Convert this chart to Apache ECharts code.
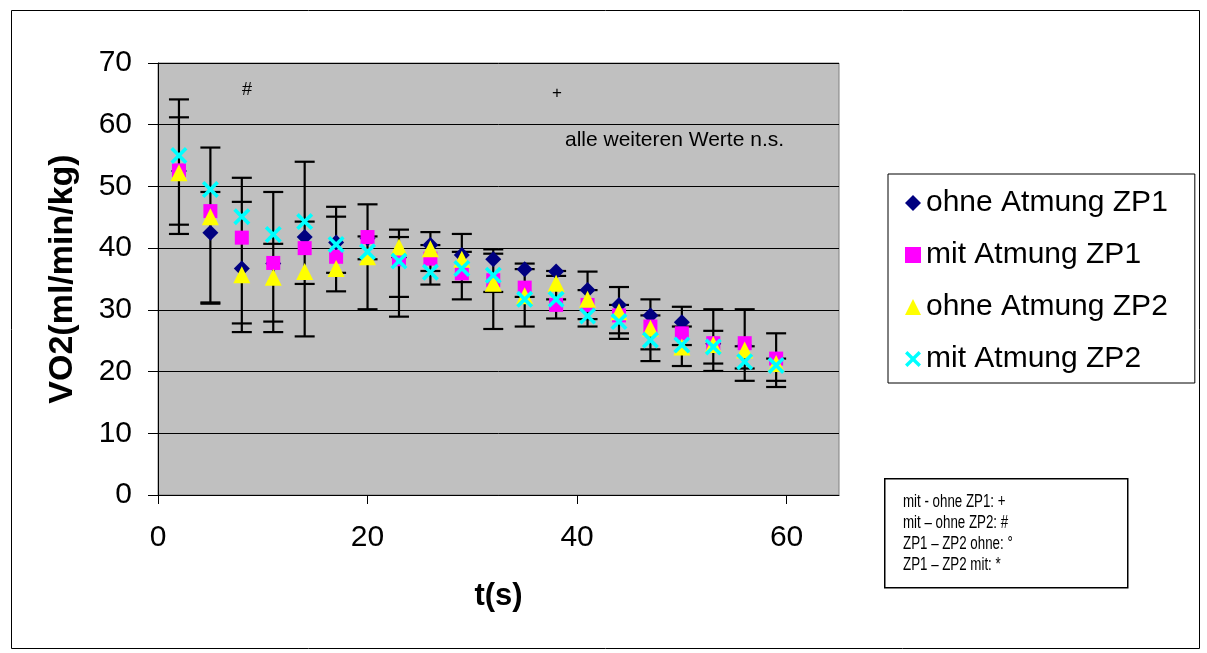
<!DOCTYPE html>
<html>
<head>
<meta charset="utf-8">
<script src="https://cdn.jsdelivr.net/npm/echarts@6/dist/echarts.min.js"></script>
<style>
	html, body { margin: 0; padding: 0; background: #fff; }
	#chart { width: 1207px; height: 653px; }
</style>
</head>
<body>
<div id="chart"></div>
<script>
// Zeitpunkte (s)
var times = [2, 5, 8, 11, 14, 17, 20, 23, 26, 29, 32, 35, 38, 41, 44, 47, 50, 53, 56, 59];

// VO2 Mittelwerte
var ohneZP1 = [52.5, 42.5, 36.7, 37.5, 41.8, 40.9, 41.6, 38.5, 40.5, 38.9, 38.2, 36.6, 36.2, 33.2, 30.8, 29.1, 28.0, 24.5, 24.2, 22.0];
var mitZP1  = [52.6, 46.0, 41.7, 37.6, 40.0, 38.6, 41.8, 38.2, 38.3, 35.9, 34.8, 33.6, 30.8, 30.8, 29.1, 27.3, 26.2, 24.6, 24.6, 22.1];
var ohneZP2 = [52.2, 45.1, 35.7, 35.3, 36.2, 36.7, 38.6, 40.2, 39.9, 38.2, 34.3, 32.3, 34.3, 31.7, 29.7, 27.0, 24.0, 24.4, 23.5, 21.3];
var mitZP2  = [55.0, 49.5, 45.1, 42.2, 44.3, 40.6, 39.4, 37.9, 36.1, 36.7, 35.6, 31.7, 31.7, 29.0, 28.1, 25.1, 24.3, 24.0, 21.6, 21.0];

// Fehlerbalken-Enden (obere / untere Kappen)
var capHiA = [64.1, 56.3, 51.4, 49.1, 54.0, 46.7, 47.1, 43.0, 42.6, 42.3, 39.8, 37.5, 36.3, 36.2, 33.7, 31.7, 30.5, 30.1, 30.1, 26.2];
var capHiB = [61.2, 49.1, 47.5, 40.7, 44.3, 45.1, 41.9, 41.8, 40.5, 39.4, 39.1, 36.6, 35.5, 33.2, 30.8, 29.1, 27.3, 26.6, 24.1, 22.1];
var capLoA = [43.8, 31.2, 27.8, 28.1, 34.2, 36.0, 38.2, 32.1, 36.3, 34.5, 32.9, 32.1, 31.7, 28.5, 26.2, 23.6, 24.3, 21.3, 20.5, 18.5];
var capLoB = [42.3, 31.0, 26.4, 26.4, 25.7, 33.0, 30.1, 28.9, 34.1, 31.7, 26.9, 27.3, 28.6, 27.3, 25.3, 21.7, 20.9, 20.1, 18.5, 17.5];

var seriesNames = ['ohne Atmung ZP1', 'mit Atmung ZP1', 'ohne Atmung ZP2', 'mit Atmung ZP2'];
var seriesColors = ['#000080', '#FF00FF', '#FFFF00', '#00FFFF'];
var xTicks = [0, 20, 40, 60];

var FONT = '"Liberation Sans", Arial, sans-serif';
var crossPath = 'path://M0,1.5 L1.5,0 L5,3.5 L8.5,0 L10,1.5 L6.5,5 L10,8.5 L8.5,10 L5,6.5 L1.5,10 L0,8.5 L3.5,5 Z';

function pairs(values) {
	return times.map(function(t, i) { return [t, values[i]]; });
}

function errorRows() {
	return times.map(function(t, i) {
		return [t, capHiA[i], capHiB[i], capLoA[i], capLoB[i]];
	});
}

function renderErrorBar(params, api) {
	var x = api.coord([api.value(0), 0])[0];
	var ys = [1, 2, 3, 4].map(function(d) { return api.coord([0, api.value(d)])[1]; });
	var top = Math.min.apply(null, ys), bottom = Math.max.apply(null, ys);
	var style = { stroke: '#000', lineWidth: 2.2 };
	var children = [{ type: 'line', shape: { x1: x, y1: top, x2: x, y2: bottom }, style: style }];
	ys.forEach(function(y) {
		children.push({ type: 'line', shape: { x1: x - 10, y1: y, x2: x + 10, y2: y }, style: style });
	});
	return { type: 'group', children: children };
}

var chart = echarts.init(document.getElementById('chart'));

var symbols = ['diamond', 'rect', 'triangle', crossPath];
var sizes = [16, 14, 17, 17];
var values = [ohneZP1, mitZP1, ohneZP2, mitZP2];

var series = [{
	type: 'custom',
	name: 'err',
	data: errorRows(),
	renderItem: renderErrorBar,
	silent: true,
	z: 1
}];
for (var i = 0; i < 4; i++) {
	series.push({
		type: 'scatter',
		name: seriesNames[i],
		data: pairs(values[i]),
		symbol: symbols[i],
		symbolSize: sizes[i],
		itemStyle: { color: seriesColors[i], opacity: 1 },
		z: 2 + i
	});
}

chart.setOption({
	animation: false,
	backgroundColor: '#fff',
	textStyle: { fontFamily: FONT },
	grid: {
		left: 158, right: 368, top: 63, bottom: 158,
		show: true, backgroundColor: '#C0C0C0', borderColor: '#808080', borderWidth: 1
	},
	legend: {
		data: seriesNames,
		orient: 'vertical',
		left: 888, top: 174,
		padding: [14, 27, 9, 17],
		itemGap: 22,
		itemWidth: 16, itemHeight: 16,
		borderColor: '#000', borderWidth: 1,
		backgroundColor: '#fff',
		textStyle: { fontSize: 30, lineHeight: 30, color: '#000', fontFamily: FONT }
	},
	xAxis: {
		type: 'value', min: 0, max: 65, interval: 20,
		name: 't(s)', nameLocation: 'middle', nameGap: 86,
		nameTextStyle: { fontSize: 31, fontWeight: 'bold', color: '#000', fontFamily: FONT },
		axisLine: { lineStyle: { color: '#000', width: 1 } },
		axisTick: { show: true, length: 9, lineStyle: { color: '#000' }, customValues: xTicks },
		axisLabel: { fontSize: 30, color: '#000', margin: 28, customValues: xTicks, fontFamily: FONT },
		splitLine: { show: false }
	},
	yAxis: {
		type: 'value', min: 0, max: 70, interval: 10,
		name: 'VO2(ml/min/kg)', nameLocation: 'middle', nameGap: 78, nameRotate: 90,
		nameTextStyle: { fontSize: 34, fontWeight: 'bold', color: '#000', fontFamily: FONT },
		axisLine: { show: true, lineStyle: { color: '#000', width: 1 } },
		axisTick: { show: true, length: 10, lineStyle: { color: '#000' } },
		axisLabel: { fontSize: 30, color: '#000', margin: 26, fontFamily: FONT },
		splitLine: { show: true, lineStyle: { color: '#000', width: 1 } }
	},
	graphic: [
		{ type: 'rect', left: 9, top: 8, shape: { width: 1188, height: 638 }, style: { fill: 'none', stroke: '#000', lineWidth: 1 }, z: -10, silent: true },
		{ type: 'rect', left: 884, top: 478, shape: { width: 243, height: 109 }, style: { fill: '#fff', stroke: '#000', lineWidth: 1.5 }, z: 10 },
		{ type: 'text', left: 903, top: 492, z: 11, scaleX: 0.74, style: {
			text: 'mit - ohne ZP1: +\nmit \u2013 ohne ZP2: #\nZP1 \u2013 ZP2 ohne: \u00b0\nZP1 \u2013 ZP2 mit: *',
			font: '18px ' + FONT, lineHeight: 21, fill: '#000' } },
		{ type: 'text', left: 242, top: 81, z: 11, style: { text: '#', font: '18px ' + FONT, fill: '#000' } },
		{ type: 'text', left: 552, top: 85, z: 11, style: { text: '+', font: '17px ' + FONT, fill: '#000' } },
		{ type: 'text', left: 565, top: 130, z: 11, style: { text: 'alle weiteren Werte n.s.', font: '21px ' + FONT, fill: '#000' } }
	],
	series: series
});
</script>
</body>
</html>
